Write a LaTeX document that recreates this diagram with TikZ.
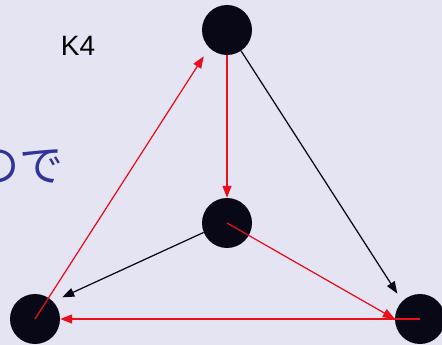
\documentclass[tikz,border=0pt]{standalone}
\usepackage{fontspec}
\setmainfont{Liberation Sans}
\newfontfamily\cjk{Noto Sans CJK JP}
\usetikzlibrary{arrows.meta}
\definecolor{bgc}{RGB}{228,228,242}
\definecolor{dotc}{RGB}{8,8,22}
\definecolor{redc}{RGB}{232,16,28}
\definecolor{bluec}{RGB}{50,50,155}
\begin{document}
\begin{tikzpicture}[x=1pt,y=-1pt,
  vert/.style={circle,fill=dotc,minimum size=50pt,inner sep=0pt},
  redarr/.style={draw=redc,line width=1.25pt,-{Triangle[length=12pt,width=9pt]}},
  blkarr/.style={draw=dotc,line width=1.25pt,-{Triangle[length=12pt,width=9pt]}}]
\fill[bgc] (0,0) rectangle (442,345);
\useasboundingbox (0,0) rectangle (442,345);
\node[font=\fontsize{28}{32}\selectfont] (lbl) at (78,46) {K4};
\node[anchor=east,inner sep=0pt,text=bluec,font=\cjk\fontsize{44}{50}\selectfont] (jp) at (64,166) {ので};
\node[vert] (top) at (227,30) {};
\node[vert] (ctr) at (227,223) {};
\node[vert] (bl) at (35,319) {};
\node[vert] (br) at (420,319) {};
\draw[blkarr,shorten >=9pt] (top.-56) -- (br.135);
\draw[blkarr,shorten >=10pt] (ctr.202) -- (bl.44);
\draw[redarr] (top.south) -- (ctr.north);
\draw[redarr,shorten >=10pt] (bl.center) -- (top.225);
\draw[redarr] (ctr.center) -- (br.west);
\draw[redarr] (br.center) -- (bl.east);
\end{tikzpicture}
\end{document}
